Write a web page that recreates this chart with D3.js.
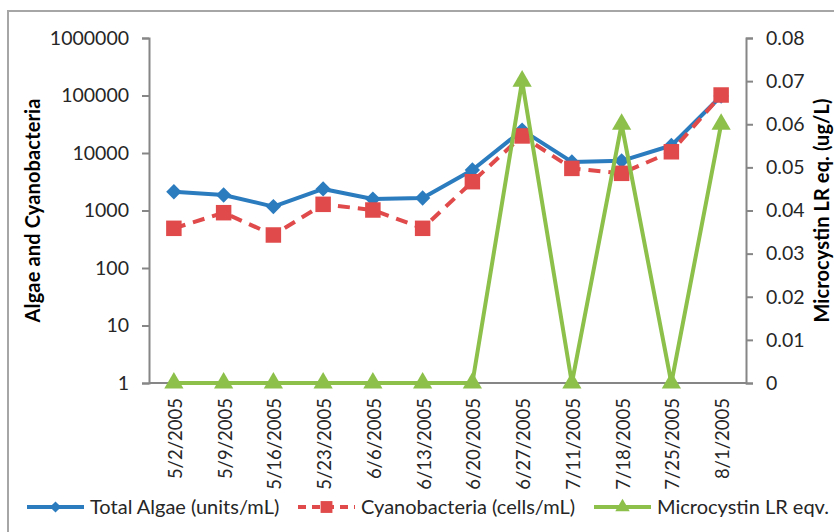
<!DOCTYPE html>
<html>
<head>
<meta charset="utf-8">
<script src="https://cdn.jsdelivr.net/npm/d3@7/dist/d3.min.js"></script>
<style>
  html, body { margin: 0; padding: 0; background: #fff; }
  svg { display: block; }
  text { font-family: Lato, "Open Sans", sans-serif; }
</style>
</head>
<body>
<svg id="chart" width="834" height="532"></svg>
<script>
// Sampling dates
const dates = ["5/2/2005", "5/9/2005", "5/16/2005", "5/23/2005", "6/6/2005", "6/13/2005",
               "6/20/2005", "6/27/2005", "7/11/2005", "7/18/2005", "7/25/2005", "8/1/2005"];
// Total algae, units/mL (left log axis)
const totalAlgae = [2120, 1860, 1170, 2370, 1580, 1650, 5060, 25000, 7000, 7300, 13500, 98000];
// Cyanobacteria, cells/mL (left log axis)
const cyanobacteria = [490, 916, 375, 1280, 1020, 490, 3170, 19800, 5400, 4430, 10500, 102000];
// Microcystin LR equivalent, ug/L (right axis)
const microcystin = [0, 0, 0, 0, 0, 0, 0, 0.07, 0, 0.06, 0, 0.06];

const leftTicks = [1, 10, 100, 1000, 10000, 100000, 1000000];
const rightTicks = [0, 0.01, 0.02, 0.03, 0.04, 0.05, 0.06, 0.07, 0.08];

const seriesNames = ["Total Algae (units/mL)", "Cyanobacteria (cells/mL)", "Microcystin LR eqv."];
const colors = { algae: "#2b7bbf", cyano: "#e04a4a", micro: "#8cc04b" };

const svg = d3.select("#chart");
const plotLeft = 149, plotRight = 746, plotTop = 38, plotBottom = 383;

// outer chart frame
svg.append("path")
  .attr("d", `M8,540 L8,11 L840,11`)
  .attr("fill", "none").attr("stroke", "#a6a6a6").attr("stroke-width", 2);

const x = d3.scalePoint().domain(dates).range([plotLeft, plotRight]).padding(0.5);
const yL = d3.scaleLog().domain([1, 1e6]).range([plotBottom, plotTop]);
const yR = d3.scaleLinear().domain([0, 0.08]).range([plotBottom, plotTop]);

const axisColor = "#868686";

// left axis
const gL = svg.append("g").attr("transform", `translate(${plotLeft},0)`)
  .call(d3.axisLeft(yL).tickValues(leftTicks).tickFormat(d3.format("d")).tickSize(7).tickPadding(13));
// right axis
const gR = svg.append("g").attr("transform", `translate(${plotRight},0)`)
  .call(d3.axisRight(yR).tickValues(rightTicks).tickFormat(d => d === 0 ? "0" : d3.format(".2f")(d)).tickSize(7).tickPadding(13));
// bottom axis
const gB = svg.append("g").attr("transform", `translate(0,${plotBottom})`)
  .call(d3.axisBottom(x).tickSize(0).tickPadding(0));

[gL, gR, gB].forEach(g => {
  g.select(".domain").attr("stroke", axisColor).attr("stroke-width", 2);
  g.selectAll(".tick line").attr("stroke", axisColor).attr("stroke-width", 2);
  g.selectAll(".tick text").attr("fill", "#262626").attr("font-size", 19.5)
    .style("font-family", "Lato, 'Open Sans', sans-serif");
});
gB.select(".domain").attr("d", `M${plotLeft},0H${plotRight}`);
gB.selectAll(".tick text")
  .attr("font-size", 18.5)
  .attr("transform", "rotate(-90)")
  .attr("text-anchor", "end")
  .attr("x", -15).attr("y", 1).attr("dy", "0.35em");

// axis titles
svg.append("text")
  .attr("transform", `translate(40,${(plotTop + plotBottom) / 2}) rotate(-90)`)
  .attr("text-anchor", "middle").attr("font-size", 20).attr("font-weight", "bold")
  .attr("textLength", 224).attr("lengthAdjust", "spacing")
  .attr("fill", "#000").text("Algae and Cyanobacteria");
svg.append("text")
  .attr("transform", `translate(829,${(plotTop + plotBottom) / 2}) rotate(-90)`)
  .attr("text-anchor", "middle").attr("font-size", 20).attr("font-weight", "bold")
  .attr("textLength", 224).attr("lengthAdjust", "spacing")
  .attr("fill", "#000").text("Microcystin LR eq. (ug/L)");

// series
const lineL = d3.line().x((d, i) => x(dates[i])).y(d => yL(d));
const lineR = d3.line().x((d, i) => x(dates[i])).y(d => yR(d));

const diamond = d3.symbol().type(d3.symbolDiamond2).size(150);
const square = d3.symbol().type(d3.symbolSquare).size(240);
const triangle = d3.symbol().type(d3.symbolTriangle).size(160);

// total algae
svg.append("path").datum(totalAlgae).attr("d", lineL)
  .attr("fill", "none").attr("stroke", colors.algae).attr("stroke-width", 4).attr("stroke-linejoin", "round");
svg.append("g").selectAll("path").data(totalAlgae).join("path")
  .attr("d", diamond).attr("fill", colors.algae)
  .attr("transform", (d, i) => `translate(${x(dates[i])},${yL(d)})`);

// cyanobacteria
svg.append("path").datum(cyanobacteria).attr("d", lineL)
  .attr("fill", "none").attr("stroke", colors.cyano).attr("stroke-width", 4)
  .attr("stroke-dasharray", "12,8").attr("stroke-linejoin", "round");
svg.append("g").selectAll("path").data(cyanobacteria).join("path")
  .attr("d", square).attr("fill", colors.cyano)
  .attr("transform", (d, i) => `translate(${x(dates[i])},${yL(d)})`);

// microcystin
svg.append("path").datum(microcystin).attr("d", lineR)
  .attr("fill", "none").attr("stroke", colors.micro).attr("stroke-width", 4).attr("stroke-linejoin", "round");
svg.append("g").selectAll("path").data(microcystin).join("path")
  .attr("d", triangle).attr("fill", colors.micro)
  .attr("transform", (d, i) => `translate(${x(dates[i])},${yR(d)})`);

// legend
const legendY = 507;
const legendItems = [
  { name: seriesNames[0], color: colors.algae, x: 27, dash: null, sym: d3.symbol().type(d3.symbolDiamond2).size(80) },
  { name: seriesNames[1], color: colors.cyano, x: 298, dash: "8,6", sym: d3.symbol().type(d3.symbolSquare).size(140) },
  { name: seriesNames[2], color: colors.micro, x: 594, dash: null, sym: d3.symbol().type(d3.symbolTriangle).size(90) }
];
const lg = svg.append("g");
legendItems.forEach(it => {
  const g = lg.append("g").attr("transform", `translate(${it.x},${legendY})`);
  g.append("line").attr("x1", 0).attr("x2", 57).attr("y1", 0).attr("y2", 0)
    .attr("stroke", it.color).attr("stroke-width", 4).attr("stroke-dasharray", it.dash);
  g.append("path").attr("d", it.sym).attr("fill", it.color).attr("transform", "translate(28.5,0)");
  g.append("text").attr("x", 63).attr("y", 0).attr("dy", "0.35em")
    .attr("font-size", 20).attr("fill", "#262626").text(it.name);
});
</script>
</body>
</html>
